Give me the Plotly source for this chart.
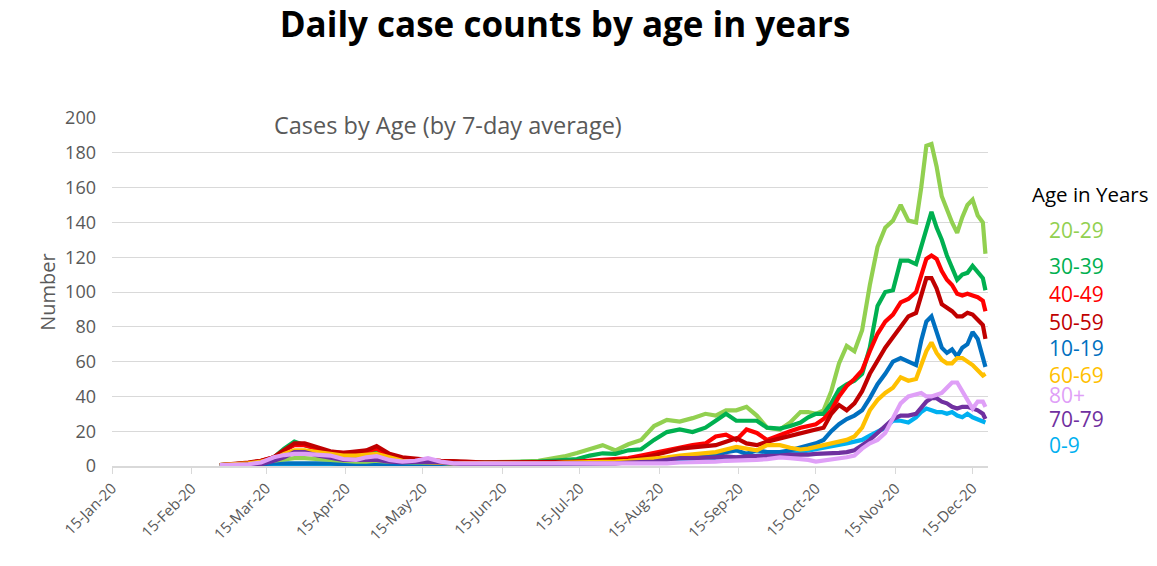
import plotly.graph_objects as go

dates = [
    "2020-02-26", "2020-03-03", "2020-03-08", "2020-03-13", "2020-03-18", "2020-03-22",
    "2020-03-26", "2020-03-30", "2020-04-04", "2020-04-09", "2020-04-14", "2020-04-19",
    "2020-04-23", "2020-04-27", "2020-05-02", "2020-05-07", "2020-05-12", "2020-05-17",
    "2020-05-22", "2020-05-27", "2020-06-01", "2020-06-08", "2020-06-15", "2020-06-22",
    "2020-06-29",
    "2020-07-04", "2020-07-09", "2020-07-14", "2020-07-19", "2020-07-24", "2020-07-29",
    "2020-08-03", "2020-08-08", "2020-08-13", "2020-08-18", "2020-08-23", "2020-08-28",
    "2020-09-02", "2020-09-06", "2020-09-10", "2020-09-14", "2020-09-18", "2020-09-22",
    "2020-09-26",
    "2020-10-01", "2020-10-05", "2020-10-09", "2020-10-12", "2020-10-15", "2020-10-18",
    "2020-10-21", "2020-10-24", "2020-10-27", "2020-10-30", "2020-11-02", "2020-11-05",
    "2020-11-08", "2020-11-11", "2020-11-14", "2020-11-17", "2020-11-20", "2020-11-23",
    "2020-11-25", "2020-11-27", "2020-11-29", "2020-12-01", "2020-12-03", "2020-12-05",
    "2020-12-07", "2020-12-09", "2020-12-11", "2020-12-13", "2020-12-15", "2020-12-17",
    "2020-12-19", "2020-12-20",
]

age_0_9 = [
    0.2, 0.3, 0.5, 0.5, 1, 1, 1, 1, 1, 1, 0.8, 0.8, 0.8, 0.8, 0.8, 0.8, 0.8, 1, 1, 1, 1, 1, 1, 1, 1,
    1.2, 1.5, 1.5, 1.5, 1.5, 1.5, 2, 2, 2.5, 3, 3, 3.5, 3.5, 4, 4.5, 5, 5, 5.5, 6,
    7, 7, 8, 9, 10, 10.5, 11, 12, 13, 14, 15, 17.5, 20, 22, 26, 26, 25, 28, 31, 33, 32, 31,
    31, 30, 31, 29, 28, 30, 28, 27, 26, 25,
]
age_10_19 = [
    0.3, 0.5, 0.5, 1, 1.5, 1.5, 2, 2, 1.5, 1.5, 1, 1, 1, 1, 1, 0.8, 0.8, 1, 1, 1, 1, 1, 1, 1.2, 1.5,
    1.5, 1.5, 2, 2, 2, 2, 2, 2.5, 3, 3.5, 4, 4.5, 5, 6, 8, 9, 7, 9, 8,
    8, 9, 10.5, 12, 13, 15, 20, 24, 27, 29, 32, 39, 47, 53, 60, 62, 60, 58, 72, 83, 86, 77,
    68, 65, 67, 63, 68, 70, 77, 73, 63, 57,
]
age_20_29 = [
    0.5, 1, 1.5, 2, 3, 4, 4.5, 4.5, 4, 3, 2.5, 2.5, 2.5, 3, 2.5, 2, 2, 2, 1.5, 1.5, 2, 2, 2, 2.5, 3,
    4, 5.5, 7.5, 10, 12, 9, 12.5, 15, 23, 26.5, 25.5, 27.5, 30, 29, 32, 32, 34, 29, 22,
    21, 25, 31, 31, 30, 32, 43, 59, 69, 66, 78, 104, 126, 137, 141, 150, 141, 140, 160, 184,
    185, 172, 155, 147, 140, 134, 143, 150, 153, 144, 140, 122,
]
age_30_39 = [
    0.5, 1, 1.5, 2.5, 5, 10, 14, 12, 10, 8, 7, 7, 8, 9, 6, 4, 3, 3, 3, 2.5, 2, 2, 2, 2, 2.5,
    3, 3.5, 4, 6, 7.3, 7, 9, 9.6, 15, 19.5, 21, 19.5, 22, 26, 30, 26, 26, 26, 22,
    21.5, 23, 25, 28, 30, 30, 36, 44, 47, 49, 53, 68, 92, 100, 101, 118, 118, 116, 126, 138,
    146, 137, 130, 121, 114, 107, 110, 111, 115, 111, 108, 101,
]
age_40_49 = [
    0.5, 1, 1.5, 3, 5, 9, 12, 12, 10, 8, 7.5, 7.5, 8.5, 10, 6, 4, 3, 3, 2.5, 2.5, 2, 2, 2, 1.5, 2,
    2, 2, 2.5, 3, 3.5, 3.5, 4.5, 6, 7.5, 9, 11, 12, 13, 17, 18, 15, 21, 19, 15,
    18, 20, 22, 23, 24, 27, 32, 40, 46, 50, 55, 66, 76, 83, 87, 94, 96, 100, 110, 119, 121,
    119, 112, 107, 104, 99, 98, 99, 98, 97, 95, 89,
]
age_50_59 = [
    0.5, 1, 2, 3, 5, 9, 13, 13, 11, 8.5, 7.5, 8, 9, 11.5, 7, 5, 4, 3.5, 3, 2.5, 2.5, 2, 2, 2, 2,
    2, 2, 2.5, 2.5, 3, 3, 3.5, 4.5, 6, 8, 10, 10.5, 11, 12, 14, 16, 13, 12, 14,
    16, 17, 19, 20, 21, 22, 30, 35, 32, 36, 43, 53, 61, 68, 74, 80, 86, 88, 98, 108, 108,
    102, 93, 91, 89, 86, 86, 88, 87, 84, 81, 73,
]
age_60_69 = [
    0.5, 1, 1.5, 2.5, 4, 7, 9, 9, 8, 6.5, 6, 6, 6.5, 7, 5, 3, 2.5, 2, 1.5, 1.5, 1.5, 1.5, 1.5, 1, 1.5,
    1.5, 2, 2, 2.5, 2.5, 2.5, 3, 3.5, 4.5, 5, 6, 6.5, 7, 8, 9.5, 11, 10, 9, 12,
    12, 10.5, 9.5, 10, 11, 12, 13, 14, 15, 17, 22, 32, 38, 42, 45, 51, 49, 50, 58, 66, 71,
    65, 61, 59, 59, 62, 62, 60, 58, 55, 52, 53,
]
age_70_79 = [
    0.3, 0.5, 0.5, 1, 3, 5, 8, 8, 6, 4.5, 3.5, 3.5, 3.8, 3.5, 2.5, 2, 2.5, 2.5, 2, 1.5, 1, 1, 1, 1, 1,
    1, 1, 1, 1.2, 1.5, 1.5, 2, 2, 2.5, 3.5, 4.5, 4.5, 4.5, 5, 5.5, 5, 5.5, 5.5, 6,
    6, 6.5, 6.3, 6.5, 7, 7, 7.3, 7.5, 8, 9, 12, 15, 19, 23, 27, 29, 29, 30, 34, 37, 39, 39,
    37, 36, 34, 33, 34, 34, 33, 32, 30, 27,
]
age_80_plus = [
    0.5, 0.7, 1, 2, 5, 6.3, 7, 7, 6.5, 6, 4, 3.5, 5, 5.7, 3.5, 2.5, 3, 4.5, 2.5, 1.5, 1.5, 1.5, 1.5, 1.5, 1,
    1, 1, 1, 1, 1, 1, 1, 1.2, 1.5, 1.5, 2, 2, 2.5, 2.5, 3, 3, 3.5, 3.5, 4,
    5, 4.5, 4, 3.5, 2.5, 3, 4, 4.5, 5, 6, 10, 13, 15, 19, 28, 36, 40, 41, 42, 40, 40, 41,
    42, 45, 48, 48, 43, 38, 33, 37, 37, 34,
]

# (label, values, colour) in drawing order
series = [
    ("0-9", age_0_9, "#00B0F0"),
    ("10-19", age_10_19, "#0070C0"),
    ("20-29", age_20_29, "#92D050"),
    ("30-39", age_30_39, "#00B050"),
    ("40-49", age_40_49, "#FF0000"),
    ("50-59", age_50_59, "#C00000"),
    ("60-69", age_60_69, "#FFC000"),
    ("70-79", age_70_79, "#7030A0"),
    ("80+", age_80_plus, "#DF9FF7"),
]
colour = {name: c for name, _, c in series}

legend_order = ["20-29", "30-39", "40-49", "50-59", "10-19", "60-69", "80+", "70-79", "0-9"]
legend_y = [0.678, 0.575, 0.494, 0.414, 0.339, 0.261, 0.203, 0.134, 0.060]

tick_vals = ["2020-01-15", "2020-02-15", "2020-03-15", "2020-04-15", "2020-05-15", "2020-06-15",
             "2020-07-15", "2020-08-15", "2020-09-15", "2020-10-15", "2020-11-15", "2020-12-15"]
tick_text = ["15-Jan-20", "15-Feb-20", "15-Mar-20", "15-Apr-20", "15-May-20", "15-Jun-20",
             "15-Jul-20", "15-Aug-20", "15-Sep-20", "15-Oct-20", "15-Nov-20", "15-Dec-20"]

fig = go.Figure()
for name, vals, c in series:
    fig.add_trace(go.Scatter(x=dates, y=vals, name=name, mode="lines",
                             line=dict(color=c, width=4.2), showlegend=False))

annotations = [
    dict(text="Cases by Age (by 7-day average)", xref="paper", yref="paper",
         x=0.183, y=0.98, xanchor="left", yanchor="middle", showarrow=False,
         font=dict(size=23.5, color="#595959")),
    dict(text="Age in Years", xref="paper", yref="paper", x=1.048, y=0.782,
         xanchor="left", yanchor="middle", showarrow=False,
         font=dict(size=20.5, color="#000000")),
]
for name, yy in zip(legend_order, legend_y):
    annotations.append(dict(text=name, xref="paper", yref="paper", x=1.067, y=yy,
                            xanchor="left", yanchor="middle", showarrow=False,
                            font=dict(size=21, color=colour[name])))

fig.update_layout(
    width=1149, height=558,
    margin=dict(l=104, r=169, t=110, b=100),
    paper_bgcolor="white", plot_bgcolor="white",
    font=dict(family="Open Sans", color="#595959"),
    title=dict(text="<b>Daily case counts by age in years</b>", x=0.4848, xref="container",
               y=0.9695, yref="container", xanchor="center", yanchor="middle",
               font=dict(size=35, color="#000000", family="Open Sans")),
    xaxis=dict(type="date", range=["2020-01-15", "2020-12-21"],
               tickvals=tick_vals, ticktext=tick_text, tickangle=-45,
               tickfont=dict(size=15, color="#595959"),
               showgrid=False, showline=True, linecolor="#D9D9D9", linewidth=1.5,
               ticks="outside", ticklen=6, tickcolor="#D9D9D9", zeroline=False),
    yaxis=dict(range=[0, 200], dtick=20, tick0=0, showgrid=True, gridcolor="#D9D9D9",
               gridwidth=1.2, zeroline=False, showline=False,
               tickfont=dict(size=18, color="#595959"), ticks="", ticklen=0,
               ticklabelstandoff=15,
               title=dict(text="Number", font=dict(size=20, color="#595959"), standoff=4)),
    annotations=annotations,
)

fig.write_html("out.html")
